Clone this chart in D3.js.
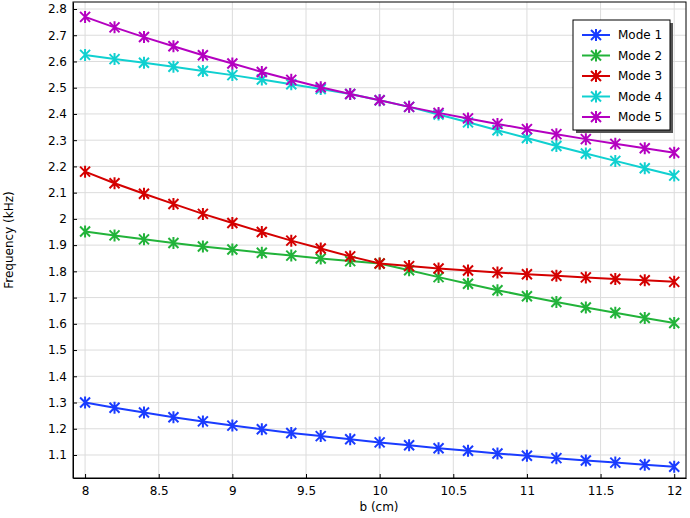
<!DOCTYPE html><html><head><meta charset="utf-8"><script src="https://cdn.jsdelivr.net/npm/d3@7"></script>
<style>body{margin:0;background:#fff}text{font-family:"DejaVu Sans",sans-serif;font-size:12px;fill:#000}</style></head><body>
<svg id="c" width="690" height="518"></svg>
<script>
const bValues=[8,8.2,8.4,8.6,8.8,9,9.2,9.4,9.6,9.8,10,10.2,10.4,10.6,10.8,11,11.2,11.4,11.6,11.8,12];
const mode1=[1.30,1.28,1.262,1.244,1.228,1.212,1.198,1.184,1.172,1.160,1.148,1.137,1.126,1.116,1.106,1.097,1.088,1.079,1.071,1.063,1.055];
const mode2=[1.952,1.937,1.922,1.908,1.895,1.883,1.871,1.860,1.849,1.839,1.830,1.804,1.778,1.753,1.728,1.705,1.683,1.662,1.642,1.622,1.603];
const mode3=[2.18,2.136,2.096,2.057,2.019,1.984,1.95,1.917,1.887,1.857,1.830,1.820,1.811,1.803,1.796,1.789,1.783,1.777,1.771,1.766,1.760];
const mode4=[2.625,2.609,2.595,2.580,2.564,2.548,2.531,2.513,2.495,2.476,2.452,2.427,2.398,2.368,2.338,2.308,2.278,2.249,2.221,2.193,2.165];
const mode5=[2.77,2.73,2.693,2.658,2.624,2.592,2.56,2.53,2.502,2.476,2.452,2.427,2.404,2.383,2.362,2.342,2.323,2.304,2.286,2.269,2.252];
const seriesNames=["Mode 1","Mode 2","Mode 3","Mode 4","Mode 5"];
const colors=["#1a3cff","#22b33a","#d40000","#10d0d0","#b400c0"];
const xTicks=[8,8.5,9,9.5,10,10.5,11,11.5,12];
const yTicks=[1.1,1.2,1.3,1.4,1.5,1.6,1.7,1.8,1.9,2,2.1,2.2,2.3,2.4,2.5,2.6,2.7,2.8];
const series=[mode1,mode2,mode3,mode4,mode5];
const svg=d3.select("#c");
const L=73,R=686,T=2,B=478;
const x=d3.scaleLinear().domain([7.918,12.08]).range([L,R]);
const y=d3.scaleLinear().domain([1.0123,2.8267]).range([B,T]);
const g=svg.append("g");
g.selectAll(".gx").data(xTicks).join("line").attr("x1",d=>x(d)).attr("x2",d=>x(d)).attr("y1",T).attr("y2",B).attr("stroke","#dcdcdc");
g.selectAll(".gy").data(yTicks).join("line").attr("y1",d=>y(d)).attr("y2",d=>y(d)).attr("x1",L).attr("x2",R).attr("stroke","#dcdcdc");
svg.append("g").attr("transform",`translate(0,${B})`).call(d3.axisBottom(x).tickValues(xTicks).tickFormat(d3.format("~g")).tickSizeInner(-4).tickSizeOuter(0).tickPadding(8)).call(a=>a.selectAll("text").style("font-size","12px").style("font-family","DejaVu Sans"));
svg.append("g").attr("transform",`translate(${L},0)`).call(d3.axisLeft(y).tickValues(yTicks).tickFormat(d3.format("~g")).tickSizeInner(-4).tickSizeOuter(0).tickPadding(6)).call(a=>a.selectAll("text").style("font-size","12px").style("font-family","DejaVu Sans"));
svg.append("rect").attr("x",L).attr("y",T).attr("width",R-L).attr("height",B-T).attr("fill","none").attr("stroke","#000");
const line=d3.line().x((d,i)=>x(bValues[i])).y(d=>y(d));
function star(sel,cx,cy,c){const s=5;const p=sel.append("path").attr("d",`M${cx-s},${cy-s}L${cx+s},${cy+s}M${cx-s},${cy+s}L${cx+s},${cy-s}M${cx},${cy-s*1.2}L${cx},${cy+s*1.2}`).attr("stroke",c).attr("stroke-width",2);}
series.forEach((s,k)=>{
 svg.append("path").datum(s).attr("d",line).attr("fill","none").attr("stroke",colors[k]).attr("stroke-width",2);
 const mg=svg.append("g");
 s.forEach((v,i)=>star(mg,x(bValues[i]),y(v),colors[k]));
});
svg.append("text").attr("x",379).attr("y",511).attr("text-anchor","middle").text("b (cm)");
svg.append("text").attr("transform","translate(13,240) rotate(-90)").attr("text-anchor","middle").text("Frequency (kHz)");
const lg=svg.append("g");
lg.append("rect").attr("x",576).attr("y",23).attr("width",97).attr("height",110).attr("fill","#555");
lg.append("rect").attr("x",573).attr("y",20).attr("width",97).attr("height",110).attr("fill","#fff").attr("stroke","#000");
seriesNames.forEach((n,k)=>{const yy=35+k*20.5;
 lg.append("line").attr("x1",582).attr("x2",610).attr("y1",yy).attr("y2",yy).attr("stroke",colors[k]).attr("stroke-width",2);
 star(lg,596,yy,colors[k]);
 lg.append("text").attr("x",618).attr("y",yy+4).text(n);});
</script></body></html>
